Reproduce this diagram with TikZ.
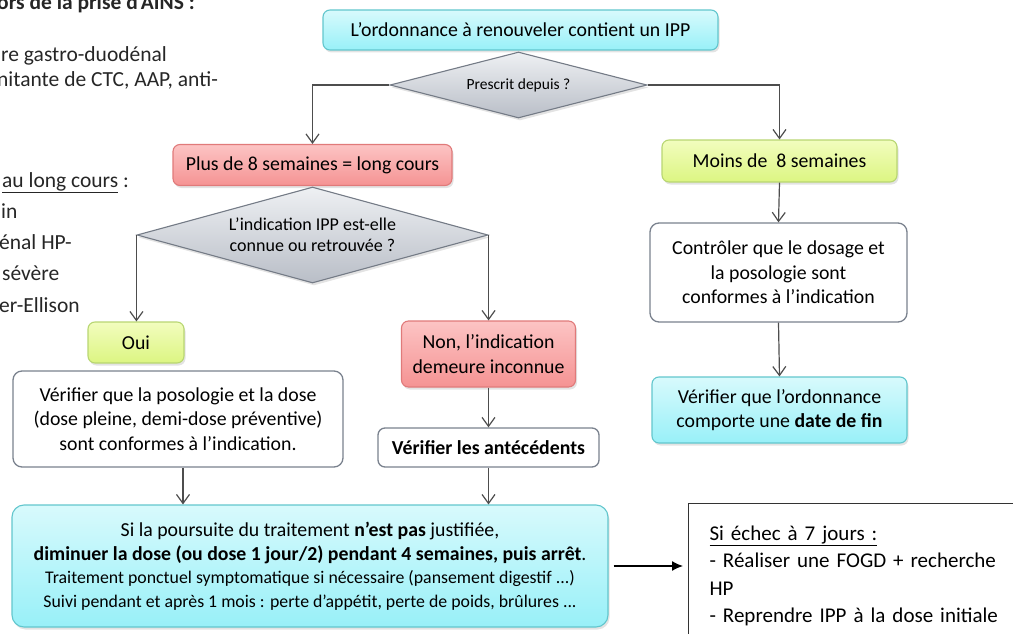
\documentclass[tikz,border=0pt]{standalone}
\usepackage{fontspec}
\setmainfont{Carlito}
\usetikzlibrary{arrows.meta,shapes.geometric,shadows,calc}
\definecolor{cyanT}{HTML}{D8FAFC}
\definecolor{cyanB}{HTML}{98F0F8}
\definecolor{cyanD}{HTML}{62C6CD}
\definecolor{redT}{HTML}{FCC4C4}
\definecolor{redB}{HTML}{F59393}
\definecolor{redD}{HTML}{E07A7A}
\definecolor{grnT}{HTML}{F2FDBE}
\definecolor{grnB}{HTML}{DCF582}
\definecolor{grnD}{HTML}{B8D672}
\definecolor{grayT}{HTML}{EEF0F3}
\definecolor{grayB}{HTML}{B9BEC7}
\definecolor{grayD}{HTML}{747B86}
\definecolor{boxD}{HTML}{7A828E}
\definecolor{lineC}{HTML}{4D4D4D}
\newcommand\fsMain{\fontsize{19.8}{24.5}\selectfont}
\newcommand\fsSmall{\fontsize{17.8}{23.5}\selectfont}
\newcommand\fsDia{\fontsize{18}{21}\selectfont}
\newcommand\fsSide{\fontsize{21.5}{27}\selectfont}
\newcommand\fsNote{\fontsize{21}{27.5}\selectfont}
\tikzset{
  shad/.style={drop shadow={opacity=0.22, shadow xshift=1.5pt, shadow yshift=-2.5pt}},
  box/.style={rounded corners=7pt, line width=1.1pt, align=center, inner sep=2pt, font=\fsMain, shad},
  cyanbox/.style={box, draw=cyanD, top color=cyanT, bottom color=cyanB},
  redbox/.style={box, draw=redD, top color=redT, bottom color=redB},
  grnbox/.style={box, draw=grnD, top color=grnT, bottom color=grnB},
  whitebox/.style={rounded corners=9pt, line width=1.3pt, draw=boxD, fill=white, align=center, inner sep=2pt, font=\fsMain},
  dia/.style={diamond, inner sep=0pt, draw=grayD, line width=1.1pt, top color=grayT, bottom color=grayB, align=center, font=\fsDia, shad},
  arr/.style={draw=lineC, line width=1.2pt, -{Straight Barb[length=9pt,width=13pt,line width=1.2pt]}},
  sidetxt/.style={anchor=base west, inner sep=0pt, font=\fsSide, text=black!85},
  notebox/.style={draw=black!80, line width=1.1pt, fill=white, anchor=north west, text width=330pt, inner xsep=21pt, inner ysep=22pt, align=left, font=\fsNote},
}
\begin{document}
\begin{tikzpicture}[x=1pt,y=-1pt]
\useasboundingbox (0,0) rectangle (1013,634);
% partial side text (cut by the page edge)
\node[sidetxt, font=\fsSide\bfseries] (s1) at (-3,10) {ors de la prise d’AINS :};
\node[sidetxt] (s2) at (1,62) {re gastro-duodénal};
\node[sidetxt] (s3) at (-3,87) {nitante de CTC, AAP, anti-};
\node[sidetxt] (s4) at (2,187) {\underline{au long cours} :};
\node[sidetxt] (s5) at (1,218) {in};
\node[sidetxt] (s6) at (-1,249) {énal HP-};
\node[sidetxt] (s7) at (2,280) {sévère};
\node[sidetxt] (s8) at (-1,312) {er-Ellison};

% nodes
\node[cyanbox, minimum width=395pt, minimum height=40pt] (top) at (520.5,30) {L’ordonnance à renouveler contient un IPP};
\node[dia, aspect=3.89, minimum width=257pt, minimum height=66pt, font=\fontsize{15.5}{19}\selectfont] (d1) at (518.5,85) {Prescrit depuis ?};
\node[redbox, minimum width=279pt, minimum height=41pt] (plus) at (312.5,165) {Plus de 8 semaines = long cours};
\node[grnbox, minimum width=235pt, minimum height=42pt] (moins) at (779.5,161) {Moins de\ \ 8 semaines};
\node[whitebox, minimum width=257pt, minimum height=99pt] (ctrl) at (778.5,272.5) {Contrôler que le dosage et\\la posologie sont\\conformes à l’indication};
\node[cyanbox, minimum width=255pt, minimum height=66pt] (datef) at (779.5,410) {Vérifier que l’ordonnance\\comporte une \textbf{date de fin}};
\node[dia, aspect=3.66, minimum width=351pt, minimum height=96pt] (d2) at (312.5,235) {L’indication IPP est-elle\\connue ou retrouvée ?};
\node[grnbox, minimum width=96pt, minimum height=41pt] (oui) at (136,342.5) {Oui};
\node[redbox, minimum width=174pt, minimum height=66pt] (non) at (488.5,354) {Non, l’indication\\demeure inconnue};
\node[whitebox, minimum width=330pt, minimum height=96pt] (poso) at (178,419) {Vérifier que la posologie et la dose\\(dose pleine, demi-dose préventive)\\sont conformes à l’indication.};
\node[whitebox, rounded corners=7pt, minimum width=221pt, minimum height=39pt] (ante) at (488.5,447.5) {\textbf{Vérifier les antécédents}};
\node[cyanbox, rounded corners=12pt, minimum width=596pt, minimum height=122pt, font=\fsSmall] (big) at (310,566)
  {{\fsMain Si la poursuite du traitement \textbf{n’est pas} justifiée,}\\
   {\fsMain\textbf{diminuer la dose (ou dose 1 jour/2) pendant 4 semaines, puis arrêt}.}\\
   Traitement ponctuel symptomatique si nécessaire (pansement digestif ...)\\
   Suivi pendant et après 1 mois : perte d’appétit, perte de poids, brûlures ...};
\node[notebox] (note) at (688,503)
  {\underline{Si échec à 7 jours :}\\
   - Réaliser une FOGD + recherche\\
   HP\\
   - Reprendre IPP à la dose initiale};

% connectors
\draw[arr] (d1.west) -| (plus.north);
\draw[arr] (d1.east) -| (moins.north);
\draw[arr] (d2.west) -- (d2.west |- oui.north);
\draw[arr] (d2.east) -- (d2.east |- non.north);
\draw[arr] (moins.south) -- (ctrl.north);
\draw[arr] (ctrl.south) -- (datef.north);
\draw[arr] (non.south) -- (ante.north);
\draw[arr] ([xshift=5pt]poso.south) -- ([xshift=5pt]poso.south |- big.north);
\draw[arr] (ante.south) -- (ante.south |- big.north);
\draw[line width=1.3pt, shorten <=5pt, shorten >=5pt, -{Latex[length=11pt,width=10pt]}] (big.east) -- (big.east -| note.west);
\end{tikzpicture}
\end{document}
